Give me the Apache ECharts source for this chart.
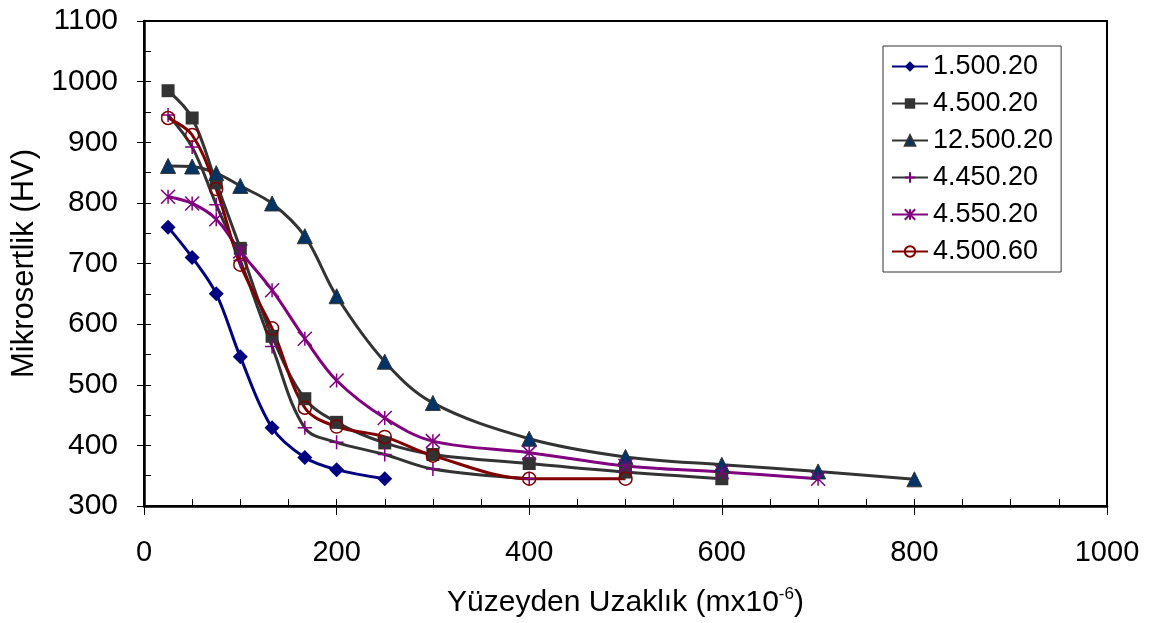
<!DOCTYPE html>
<html>
<head>
<meta charset="utf-8">
<script src="https://cdn.jsdelivr.net/npm/echarts@6/dist/echarts.min.js"></script>
<style>
  html, body { margin: 0; padding: 0; background: #fff; }
  #chart { width: 1152px; height: 623px; }
</style>
</head>
<body>
<div id="chart"></div>
<script>
// series names as in the legend
const seriesNames = ['1.500.20', '4.500.20', '12.500.20', '4.450.20', '4.550.20', '4.500.60']

// distance from surface (mx10^-6) and microhardness (HV)
const dist1 = [25, 50, 75, 100, 133, 167, 200, 250]
const hv1 = [760, 710, 650, 546, 429, 380, 360, 345]

const dist2 = [25, 50, 75, 100, 133, 167, 200, 250, 300, 400, 500, 600]
const hv2 = [985, 940, 833, 725, 580, 477, 438, 404, 385, 370, 356, 345]

const dist3 = [25, 50, 75, 100, 133, 167, 200, 250, 300, 400, 500, 600, 700, 800]
const hv3 = [861, 860, 849, 828, 799, 745, 646, 538, 470, 411, 381, 368, 357, 344]

const dist4 = [25, 50, 75, 100, 133, 167, 200, 250, 300, 400]
const hv4 = [945, 892, 797, 705, 563, 429, 405, 385, 361, 345]

const dist5 = [25, 50, 75, 100, 133, 167, 200, 250, 300, 400, 500, 600, 700]
const hv5 = [810, 799, 773, 720, 656, 576, 507, 445, 407, 388, 366, 356, 345]

const dist6 = [25, 50, 75, 100, 133, 167, 200, 250, 300, 400, 500]
const hv6 = [940, 912, 823, 698, 593, 462, 431, 414, 383, 345, 345]

// axis ticks
const xMin = 0, xMax = 1000, xStep = 200
const yMin = 300, yMax = 1100, yStep = 100
const minorStep = 50

const FONT = '"Liberation Sans", Arial, sans-serif'

const plusPath = 'path://M5,0L5,10M0,5L10,5'
const starPath = 'path://M5,0L5,10M0,0L10,10M10,0L0,10'

function pairs(xs, ys) {
  return xs.map((x, i) => [x, ys[i]])
}

function makeSeries(name, data, opts) {
  return {
    name: name,
    type: 'line',
    data: data,
    xAxisIndex: 0,
    yAxisIndex: 0,
    smooth: 0.35,
    symbol: opts.symbol,
    symbolSize: opts.size,
    lineStyle: { color: opts.line, width: 3 },
    itemStyle: opts.item,
    emphasis: { disabled: true }
  }
}

const series = [
  makeSeries(seriesNames[0], pairs(dist1, hv1), {
    symbol: 'diamond', size: 15, line: '#000080',
    item: { color: '#000080' }
  }),
  makeSeries(seriesNames[1], pairs(dist2, hv2), {
    symbol: 'rect', size: 13, line: '#333333',
    item: { color: '#333333' }
  }),
  makeSeries(seriesNames[2], pairs(dist3, hv3), {
    symbol: 'triangle', size: 15, line: '#333333',
    item: { color: '#003366', borderColor: '#333333', borderWidth: 1 }
  }),
  makeSeries(seriesNames[3], pairs(dist4, hv4), {
    symbol: plusPath, size: 14, line: '#333333',
    item: { color: '#800080', borderColor: '#800080', borderWidth: 1.5 }
  }),
  makeSeries(seriesNames[4], pairs(dist5, hv5), {
    symbol: starPath, size: 14, line: '#800080',
    item: { color: '#800080', borderColor: '#800080', borderWidth: 1.5 }
  }),
  makeSeries(seriesNames[5], pairs(dist6, hv6), {
    symbol: 'circle', size: 13, line: '#800000',
    item: { color: 'rgba(255,255,255,0)', borderColor: '#800000', borderWidth: 1.5 }
  })
]

const chart = echarts.init(document.getElementById('chart'))

chart.setOption({
  animation: false,
  backgroundColor: '#ffffff',
  textStyle: { fontFamily: FONT },
  grid: {
    left: 144,
    right: 45,
    top: 21,
    bottom: 116,
    show: true,
    borderColor: '#000',
    borderWidth: 2
  },
  legend: {
    data: seriesNames,
    orient: 'vertical',
    left: 883,
    top: 46,
    padding: [7, 8],
    itemGap: 10,
    itemWidth: 36,
    itemHeight: 13,
    backgroundColor: '#fff',
    borderColor: '#333',
    borderWidth: 1,
    textStyle: { fontSize: 27, lineHeight: 26, color: '#000', fontFamily: FONT }
  },
  xAxis: [
    {
      type: 'value',
      min: xMin,
      max: xMax,
      interval: xStep,
      name: 'Yüzeyden Uzaklık (mx10{sup|-6})',
      nameLocation: 'middle',
      nameGap: 80,
      nameTextStyle: {
        fontSize: 30,
        color: '#000',
        fontFamily: FONT,
        rich: {
          sup: { fontSize: 17, color: '#000', fontFamily: FONT, padding: [0, 0, 17, 0] }
        }
      },
      axisLine: { show: true, onZero: false, lineStyle: { color: '#000', width: 2.5 } },
      axisTick: { show: true, inside: false, length: 9, lineStyle: { color: '#000', width: 1 } },
      axisLabel: {
        fontSize: 29, color: '#000', margin: 32, showMinLabel: true, showMaxLabel: true,
        fontFamily: FONT, formatter: v => String(v)
      },
      splitLine: { show: false }
    },
    {
      type: 'value',
      min: xMin,
      max: xMax,
      interval: minorStep,
      position: 'bottom',
      axisLine: { show: false },
      axisTick: { show: true, inside: true, length: 7, lineStyle: { color: '#000', width: 1 } },
      axisLabel: { show: false },
      splitLine: { show: false }
    }
  ],
  yAxis: [
    {
      type: 'value',
      min: yMin,
      max: yMax,
      interval: yStep,
      name: 'Mikrosertlik (HV)',
      nameLocation: 'middle',
      nameGap: 97,
      nameRotate: 90,
      nameTextStyle: { fontSize: 31, color: '#000', fontFamily: FONT },
      axisLine: { show: true, onZero: false, lineStyle: { color: '#000', width: 2.5 } },
      axisTick: { show: true, inside: false, length: 7, lineStyle: { color: '#000', width: 1 } },
      axisLabel: { fontSize: 30, color: '#000', margin: 26, fontFamily: FONT, formatter: v => String(v) },
      splitLine: { show: false }
    },
    {
      type: 'value',
      min: yMin,
      max: yMax,
      interval: minorStep,
      position: 'left',
      axisLine: { show: false },
      axisTick: { show: true, inside: true, length: 7, lineStyle: { color: '#000', width: 1 } },
      axisLabel: { show: false },
      splitLine: { show: false }
    }
  ],
  series: series
})
</script>
</body>
</html>
